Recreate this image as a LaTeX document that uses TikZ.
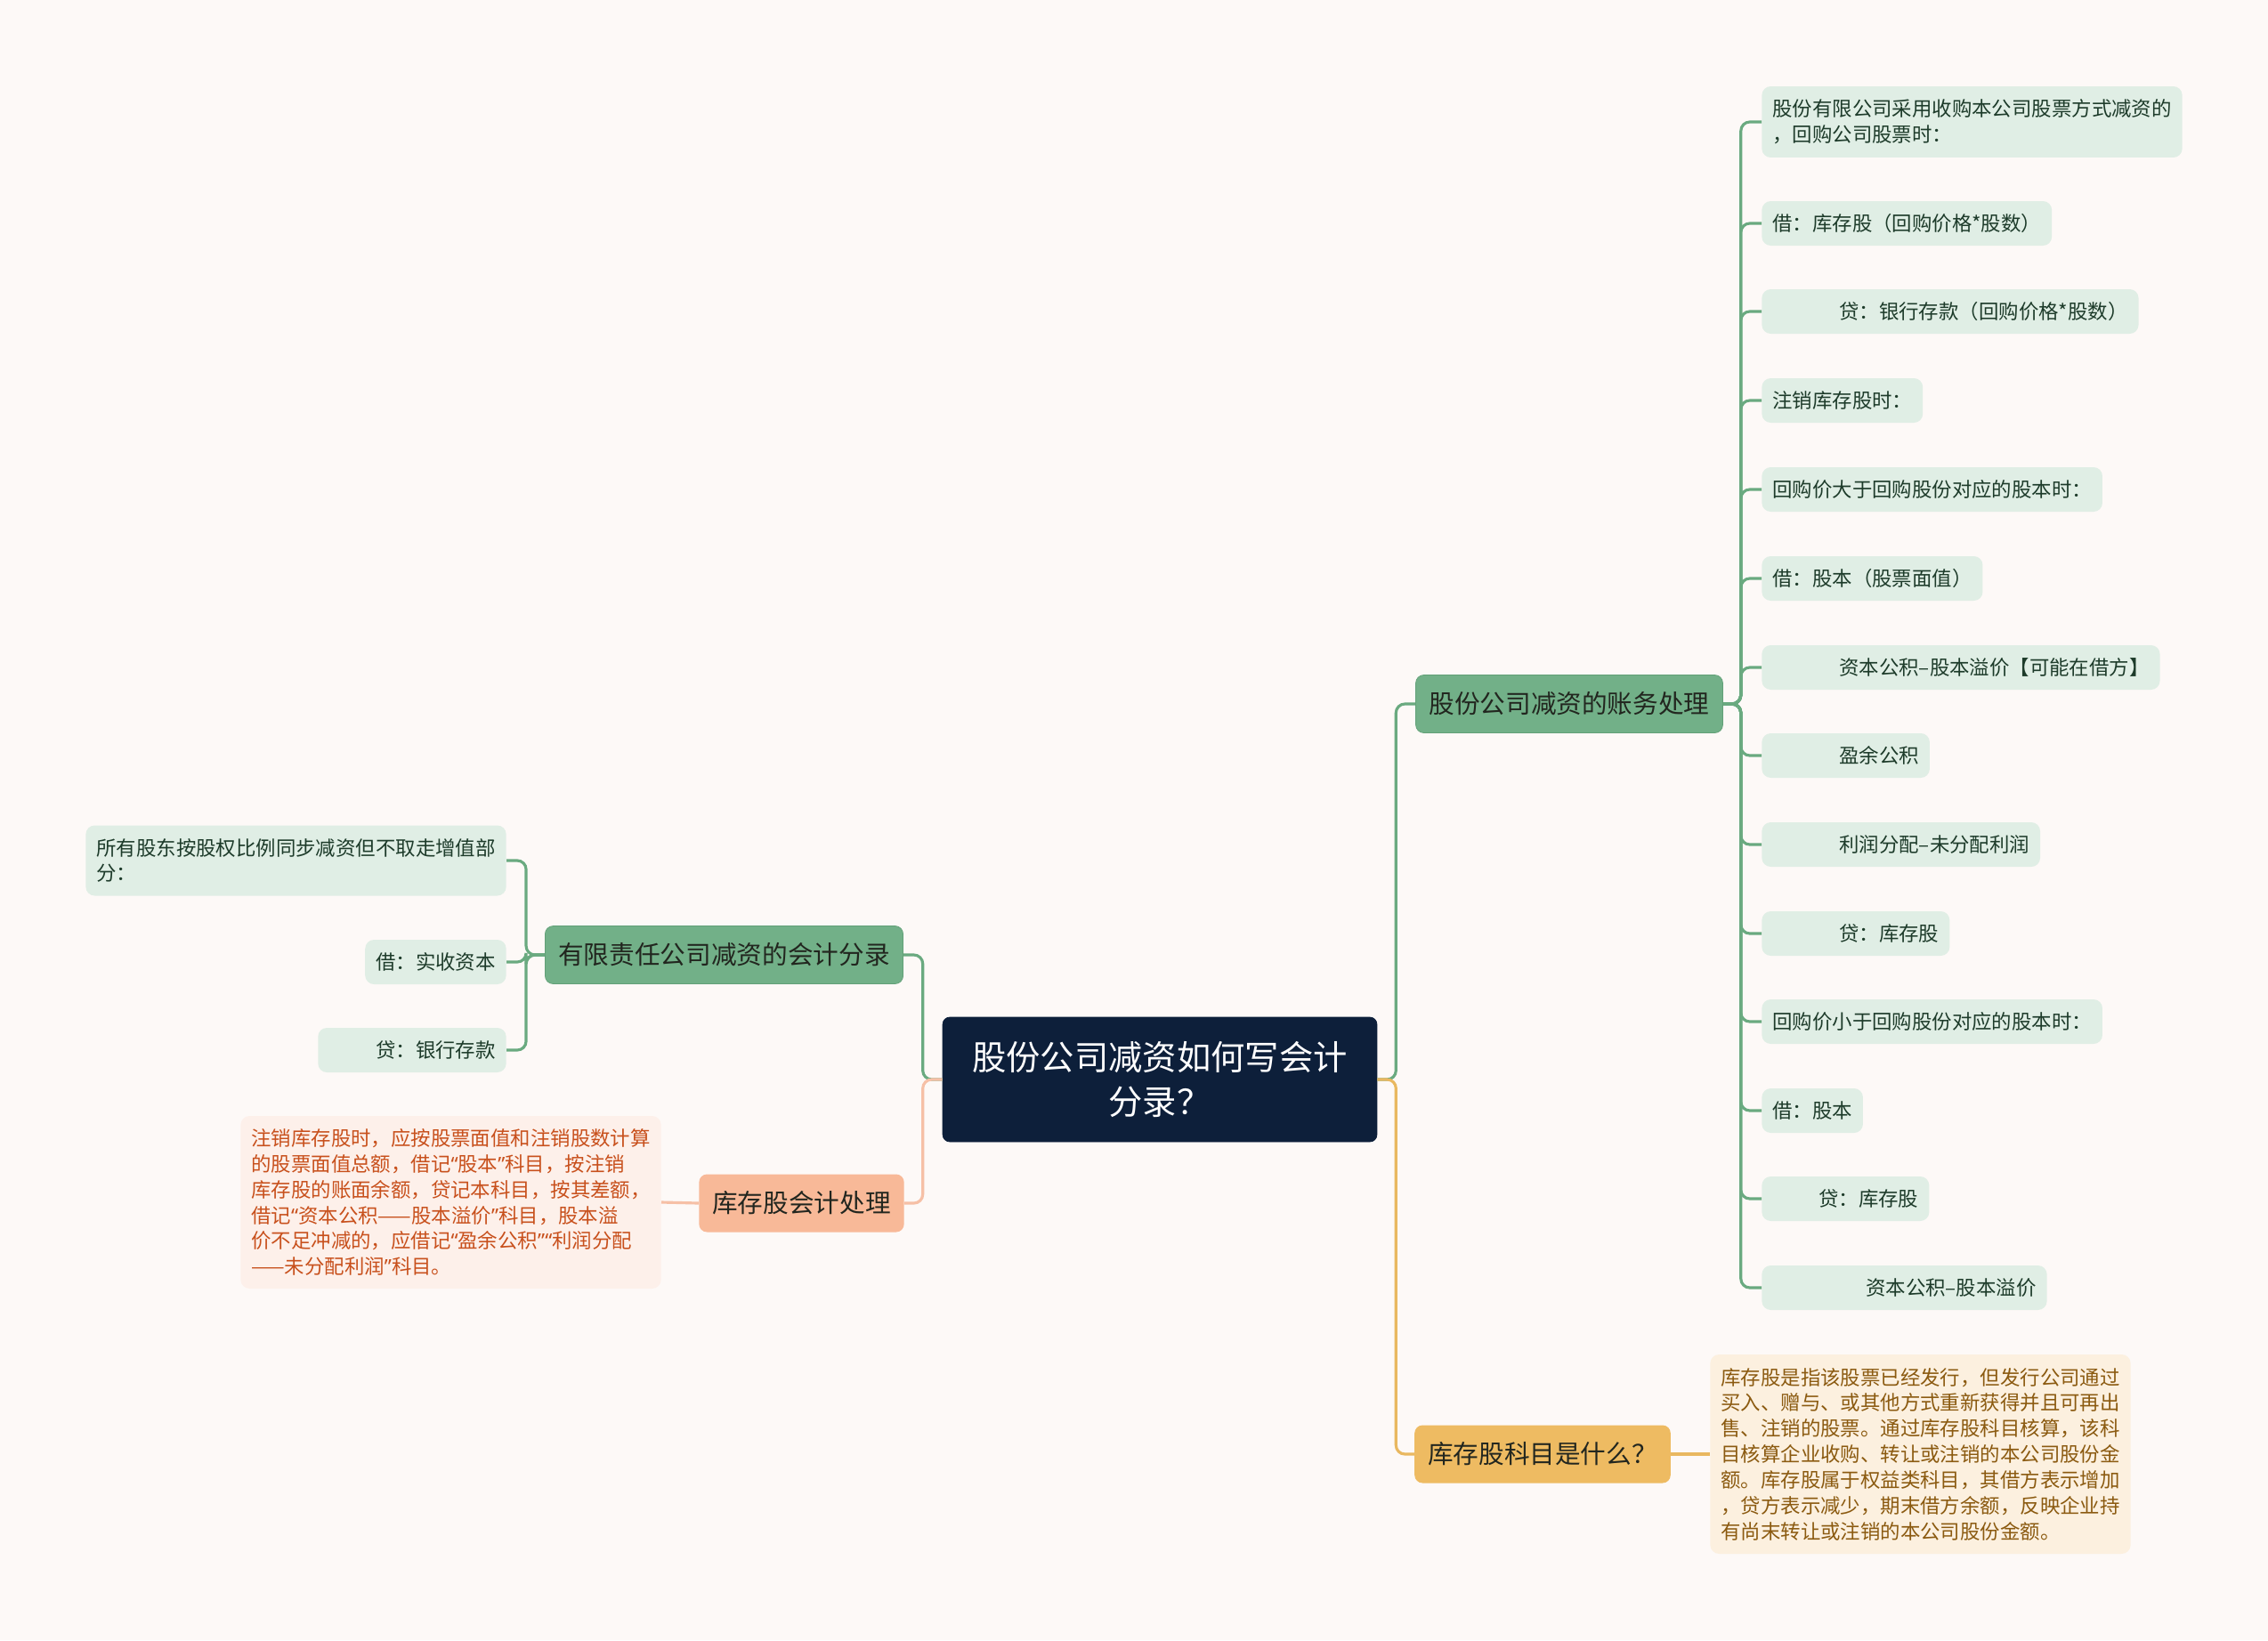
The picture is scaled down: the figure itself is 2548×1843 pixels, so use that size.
\documentclass[tikz,border=0pt]{standalone}
\usepackage{fontspec}
\setmainfont{Noto Sans CJK SC}
\newfontfamily\comillas{Noto Sans}

\definecolor{fondo}{HTML}{FDF9F7}
\definecolor{azulosc}{HTML}{0D1F3A}
\definecolor{verderama}{HTML}{72B088}
\definecolor{verdeborde}{HTML}{62A077}
\definecolor{verdehoja}{HTML}{E0EEE5}
\definecolor{verdelinea}{HTML}{6AAA80}
\definecolor{textoverde}{HTML}{1D3B2A}
\definecolor{amarillorama}{HTML}{EEBB62}
\definecolor{amarillohoja}{HTML}{FCF0DF}
\definecolor{amarillolinea}{HTML}{E9B860}
\definecolor{textoamarillo}{HTML}{8B5A10}
\definecolor{salmonrama}{HTML}{F8B998}
\definecolor{salmonhoja}{HTML}{FDF0EA}
\definecolor{salmonlinea}{HTML}{F6C0A6}
\definecolor{textosalmon}{HTML}{C8501C}
\definecolor{textorama}{HTML}{22261F}

\begin{document}
\begin{tikzpicture}[x=0.02cm,y=-0.02cm]
\tikzstyle{raiz}=[fill=azulosc,draw=azulosc,text=white,rounded corners=0.16cm,minimum width=9.76cm,minimum height=2.8cm,align=center,font=\fontsize{21.8}{28.5}\selectfont]
\tikzstyle{rama}=[rounded corners=0.18cm,inner xsep=8.5pt,inner ysep=0pt,minimum height=1.3cm,text=textorama,font=\fontsize{16.3}{20}\selectfont]
\tikzstyle{rama verde}=[rama,fill=verderama,draw=verdeborde]
\tikzstyle{rama amarilla}=[rama,fill=amarillorama]
\tikzstyle{rama salmon}=[rama,fill=salmonrama]
\tikzstyle{hoja}=[rounded corners=0.2cm,inner xsep=6.8pt,inner ysep=0pt,minimum height=1cm,align=left,font=\fontsize{12.76}{16.4}\selectfont]
\tikzstyle{hoja verde}=[hoja,fill=verdehoja,text=textoverde]
\tikzstyle{hoja amarilla}=[hoja,fill=amarillohoja,text=textoamarillo]
\tikzstyle{hoja salmon}=[hoja,fill=salmonhoja,text=textosalmon]
\tikzstyle{linea}=[line width=1.8pt,rounded corners=0.2cm]

\fill[fondo] (0,0) rectangle (2548,1843);
\useasboundingbox (0,0) rectangle (2548,1843);

\node[raiz] (raiz) at (1303,1213) {股份公司减资如何写会计\\分录？};

\node[rama verde] (cuenta) at (1763,791) {股份公司减资的账务处理};
\node[rama amarilla] (que) at (1733,1634) {库存股科目是什么？};
\node[rama verde] (limitada) at (813.5,1073) {有限责任公司减资的会计分录};
\node[rama salmon] (tesoro) at (900.5,1352) {库存股会计处理};

\node[hoja verde,anchor=west,minimum height=1.6cm] (r1) at (1979,137) {股份有限公司采用收购本公司股票方式减资的\\，回购公司股票时：};
\node[hoja verde,anchor=west] (r2) at (1979,251) {借：库存股（回购价格*股数）};
\node[hoja verde,anchor=west] (r3) at (1979,350) {\hspace*{1.5cm}贷：银行存款（回购价格*股数）};
\node[hoja verde,anchor=west] (r4) at (1979,450) {注销库存股时：};
\node[hoja verde,anchor=west] (r5) at (1979,550) {回购价大于回购股份对应的股本时：};
\node[hoja verde,anchor=west] (r6) at (1979,650) {借：股本（股票面值）};
\node[hoja verde,anchor=west] (r7) at (1979,750) {\hspace*{1.5cm}资本公积–股本溢价【可能在借方】};
\node[hoja verde,anchor=west] (r8) at (1979,849) {\hspace*{1.5cm}盈余公积};
\node[hoja verde,anchor=west] (r9) at (1979,949) {\hspace*{1.5cm}利润分配–未分配利润};
\node[hoja verde,anchor=west] (r10) at (1979,1049) {\hspace*{1.5cm}贷：库存股};
\node[hoja verde,anchor=west] (r11) at (1979,1148) {回购价小于回购股份对应的股本时：};
\node[hoja verde,anchor=west] (r12) at (1979,1248) {借：股本};
\node[hoja verde,anchor=west] (r13) at (1979,1347) {\hspace*{1.04cm}贷：库存股};
\node[hoja verde,anchor=west] (r14) at (1979,1447) {\hspace*{2.1cm}资本公积–股本溢价};

\node[hoja amarilla,anchor=west,minimum height=4.48cm] (q1) at (1921,1634) {库存股是指该股票已经发行，但发行公司通过\\买入、赠与、或其他方式重新获得并且可再出\\售、注销的股票。通过库存股科目核算，该科\\目核算企业收购、转让或注销的本公司股份金\\额。库存股属于权益类科目，其借方表示增加\\，贷方表示减少，期末借方余额，反映企业持\\有尚末转让或注销的本公司股份金额。};

\node[hoja verde,anchor=east,minimum height=1.58cm] (l1) at (569,967) {所有股东按股权比例同步减资但不取走增值部\\分：};
\node[hoja verde,anchor=east] (l2) at (569,1081) {借：实收资本};
\node[hoja verde,anchor=east] (l3) at (569,1180) {\hspace*{1.06cm}贷：银行存款};

\node[hoja salmon,anchor=east,minimum height=3.88cm] (t1) at (743,1351) {注销库存股时，应按股票面值和注销股数计算\\的股票面值总额，借记{\comillas “}股本{\comillas ”}科目，按注销\\库存股的账面余额，贷记本科目，按其差额，\\借记{\comillas “}资本公积——股本溢价{\comillas ”}科目，股本溢\\价不足冲减的，应借记{\comillas “}盈余公积{\comillas ”}{\comillas “}利润分配\\——未分配利润{\comillas ”}科目。};

\draw[linea,draw=verdelinea] (raiz.east) -- ++(21,0) |- (cuenta.west);
\draw[linea,draw=amarillolinea] (raiz.east) -- ++(21,0) |- (que.west);
\draw[linea,draw=verdelinea] (raiz.west) -- ++(-22,0) |- (limitada.east);
\draw[linea,draw=salmonlinea] (raiz.west) -- ++(-22,0) |- (tesoro.east);

\draw[linea,draw=verdelinea] (cuenta.east) -- ++(20,0) |- (r1.west);
\draw[linea,draw=verdelinea] (cuenta.east) -- ++(20,0) |- (r2.west);
\draw[linea,draw=verdelinea] (cuenta.east) -- ++(20,0) |- (r3.west);
\draw[linea,draw=verdelinea] (cuenta.east) -- ++(20,0) |- (r4.west);
\draw[linea,draw=verdelinea] (cuenta.east) -- ++(20,0) |- (r5.west);
\draw[linea,draw=verdelinea] (cuenta.east) -- ++(20,0) |- (r6.west);
\draw[linea,draw=verdelinea] (cuenta.east) -- ++(20,0) |- (r7.west);
\draw[linea,draw=verdelinea] (cuenta.east) -- ++(20,0) |- (r8.west);
\draw[linea,draw=verdelinea] (cuenta.east) -- ++(20,0) |- (r9.west);
\draw[linea,draw=verdelinea] (cuenta.east) -- ++(20,0) |- (r10.west);
\draw[linea,draw=verdelinea] (cuenta.east) -- ++(20,0) |- (r11.west);
\draw[linea,draw=verdelinea] (cuenta.east) -- ++(20,0) |- (r12.west);
\draw[linea,draw=verdelinea] (cuenta.east) -- ++(20,0) |- (r13.west);
\draw[linea,draw=verdelinea] (cuenta.east) -- ++(20,0) |- (r14.west);

\draw[linea,draw=amarillolinea] (que.east) -- (q1.west);

\draw[linea,draw=verdelinea] (limitada.west) -- ++(-21,0) |- (l1.east);
\draw[linea,draw=verdelinea] (limitada.west) -- ++(-21,0) |- (l2.east);
\draw[linea,draw=verdelinea] (limitada.west) -- ++(-21,0) |- (l3.east);

\draw[linea,draw=salmonlinea] (tesoro.west) -- (t1.east);
\end{tikzpicture}
\end{document}
